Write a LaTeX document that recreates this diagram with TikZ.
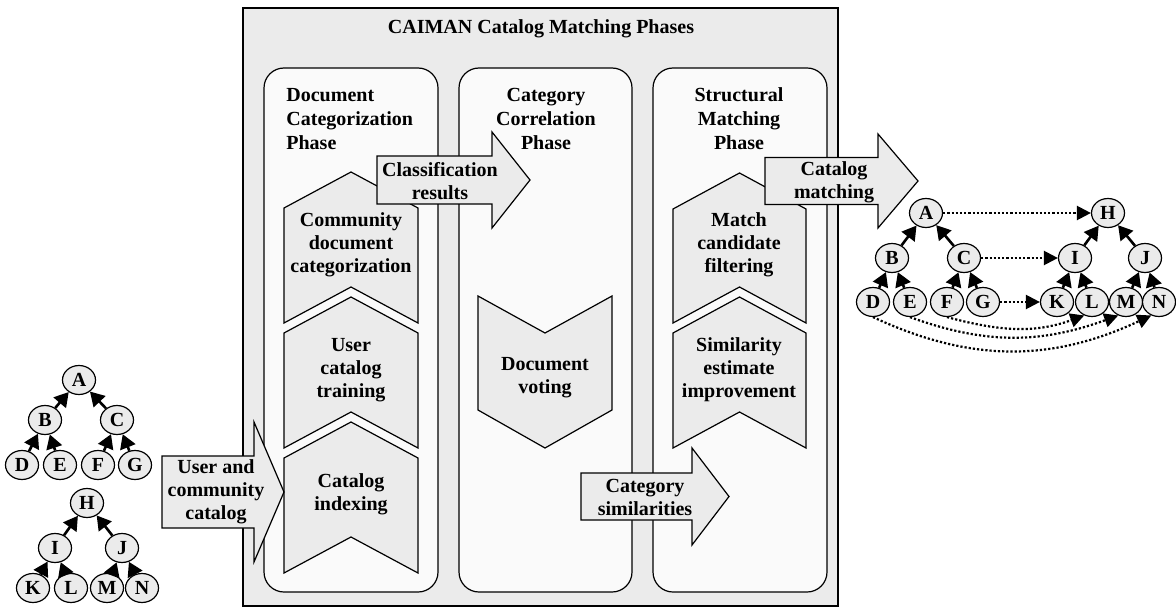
\documentclass[tikz,border=0pt]{standalone}
\usepackage{fontspec}
\setmainfont{Liberation Serif}
\usetikzlibrary{arrows.meta,shapes.geometric}

\definecolor{boxgray}{RGB}{235,235,235}
\definecolor{colwhite}{RGB}{250,250,250}

% chevron pointing up: left x, right x, shoulder y, bottom y, peak height
\newcommand{\upchevron}[5]{%
  \draw[chevron] (#1,#3) -- ({(#1+#2)/2},{#3-#5}) -- (#2,#3) -- (#2,#4) -- ({(#1+#2)/2},{#4-#5}) -- (#1,#4) -- cycle;}
% block arrow: tail x, head base x, tip x, centre y, half body, half head
\newcommand{\blockarrow}[6]{%
  \draw[blockarr] (#1,{#4-#5}) -- (#2,{#4-#5}) -- (#2,{#4-#6}) -- (#3,#4) -- (#2,{#4+#6}) -- (#2,{#4+#5}) -- (#1,{#4+#5}) -- cycle;}

\begin{document}
\begin{tikzpicture}[x=0.5pt,y=-0.5pt,font=\fontsize{10}{11.5}\selectfont\bfseries,
    phasebox/.style={draw,fill=colwhite,rounded corners=10pt,line width=0.6pt},
    chevron/.style={draw,fill=boxgray,line width=0.6pt},
    blockarr/.style={draw,fill=boxgray,line width=0.6pt},
    txt/.style={align=center,inner sep=0pt},
    tnode/.style={ellipse,draw,fill=boxgray,line width=0.6pt,minimum width=16.5pt,minimum height=14.5pt,inner sep=0pt},
    tedge/.style={-{Triangle[length=7pt,width=8pt]},line width=1.3pt},
    matcharrow/.style={-{Triangle[length=7pt,width=7pt]},densely dotted,line width=1.1pt}]
    \useasboundingbox (0,0) rectangle (1176,609);
    % Frame and phases
    \draw[fill=boxgray,line width=0.8pt] (243,8) rectangle (838,606);
    \node[txt,anchor=base] (title) at (541,34) {CAIMAN Catalog Matching Phases};
    \draw[phasebox] (264,68) rectangle (438,592);
    \draw[phasebox] (459,68) rectangle (632,592);
    \draw[phasebox] (653,68) rectangle (827,592);
    \node[txt,anchor=west,align=left,font=\fontsize{10}{12}\selectfont\bfseries] (hdoc) at (286,119) {Document\\Categorization\\Phase};
    \node[txt,font=\fontsize{10}{12}\selectfont\bfseries] (hcat) at (546,119) {Category\\Correlation\\Phase};
    \node[txt,font=\fontsize{10}{12}\selectfont\bfseries] (hstr) at (739,119) {Structural\\Matching\\Phase};
    % Steps
    \upchevron{284}{418}{208}{323}{36}
    \upchevron{284}{418}{333}{448}{36}
    \upchevron{284}{418}{458}{573}{36}
    \upchevron{673}{806}{209}{323}{36}
    \upchevron{673}{806}{333}{448}{36}
    \draw[chevron] (478,296) -- (545,333) -- (612,296) -- (612,410) -- (545,448) -- (478,410) -- cycle;
    \node[txt] (community) at (351,245) {Community\\document\\categorization};
    \node[txt] (training) at (351,370) {User\\catalog\\training};
    \node[txt] (indexing) at (351,494) {Catalog\\indexing};
    \node[txt] (voting) at (545,378) {Document\\voting};
    \node[txt] (filtering) at (739,245) {Match\\candidate\\filtering};
    \node[txt] (improve) at (739,370) {Similarity\\estimate\\improvement};
    % Flows between phases
    \blockarrow{377}{492}{530}{180}{24}{48}
    \node[txt] (classres) at (440,181) {Classification\\results};
    \blockarrow{765}{878}{918}{181}{23.5}{47}
    \node[txt] (catmatch) at (834,182) {Catalog\\matching};
    \blockarrow{581}{692}{729}{496.5}{23.5}{48.5}
    \node[txt] (catsim) at (645,497) {Category\\similarities};
    \blockarrow{162}{254}{284}{492}{36}{70}
    \node[txt] (usercat) at (216,492) {User and\\community\\catalog};
    % Input catalogs
    \node[tnode] (lA) at (79,380) {A};
    \node[tnode] (lB) at (45,420) {B};
    \node[tnode] (lC) at (117,420) {C};
    \node[tnode] (lD) at (22,465) {D};
    \node[tnode] (lE) at (60,465) {E};
    \node[tnode] (lF) at (98,465) {F};
    \node[tnode] (lG) at (135,465) {G};
    \node[tnode] (lH) at (87,503) {H};
    \node[tnode] (lI) at (55,548) {I};
    \node[tnode] (lJ) at (122,548) {J};
    \node[tnode] (lK) at (33,588) {K};
    \node[tnode] (lL) at (71,588) {L};
    \node[tnode] (lM) at (107,588) {M};
    \node[tnode] (lN) at (142,588) {N};
    % Matched catalogs
    \node[tnode] (rA) at (926,213) {A};
    \node[tnode] (rB) at (892,258) {B};
    \node[tnode] (rC) at (964,258) {C};
    \node[tnode] (rD) at (873,302) {D};
    \node[tnode] (rE) at (910,302) {E};
    \node[tnode] (rF) at (947,302) {F};
    \node[tnode] (rG) at (983,302) {G};
    \node[tnode] (rH) at (1108,213) {H};
    \node[tnode] (rI) at (1075,258) {I};
    \node[tnode] (rJ) at (1145,258) {J};
    \node[tnode] (rK) at (1057,302) {K};
    \node[tnode] (rL) at (1092,302) {L};
    \node[tnode] (rM) at (1126,302) {M};
    \node[tnode] (rN) at (1159,302) {N};
    \foreach \c/\p in {B/A,C/A,D/B,E/B,F/C,G/C,I/H,J/H,K/I,L/I,M/J,N/J}{
      \draw[tedge] (l\c) -- (l\p);
      \draw[tedge] (r\c) -- (r\p);
    }
    \draw[matcharrow] (rA) -- (rH);
    \draw[matcharrow] (rC) -- (rI);
    \draw[matcharrow] (rG) -- (rK);
    \draw[matcharrow] (rF.south) to[out=-15,in=200] (rL.240);
    \draw[matcharrow] (rE.south) to[out=-20,in=200] (rM.240);
    \draw[matcharrow] (rD.south) to[out=-25,in=205] (rN.240);
\end{tikzpicture}
\end{document}
